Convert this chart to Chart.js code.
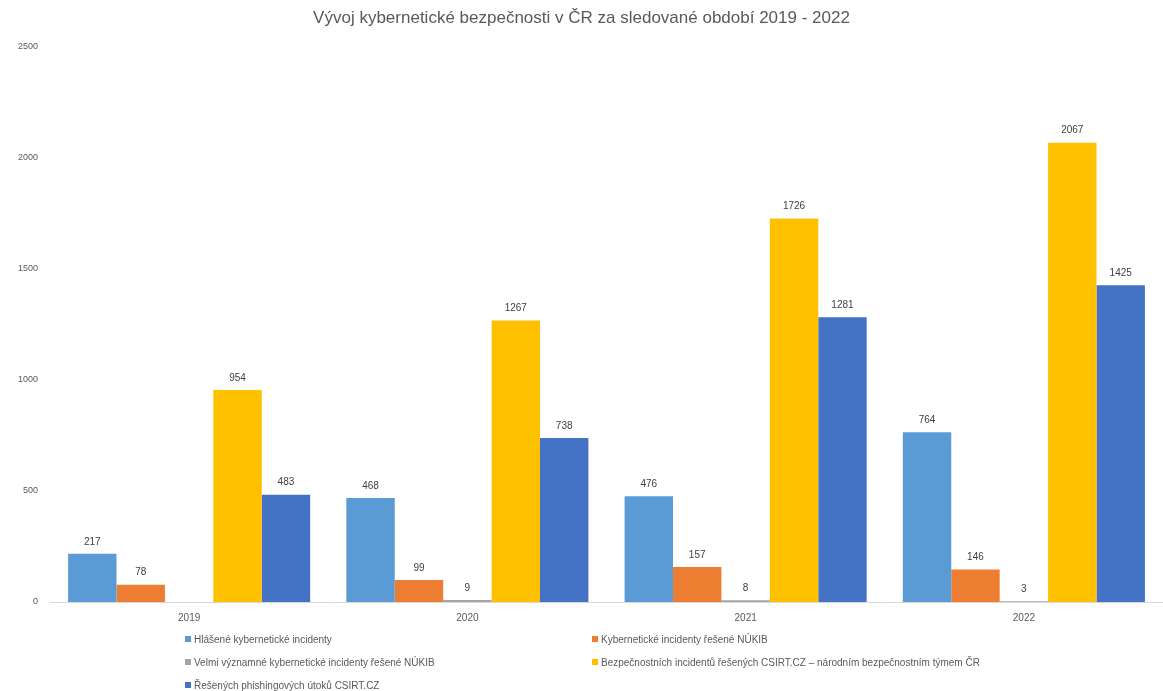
<!DOCTYPE html>
<html>
<head>
<meta charset="utf-8">
<script src="https://cdn.jsdelivr.net/npm/chart.js@4/dist/chart.umd.min.js"></script>
<style>
  html, body { margin: 0; padding: 0; background: #fff; }
  #wrap { position: relative; width: 1163px; height: 691px; }
  #legend { position: absolute; left: 0; top: 0; width: 1163px; height: 691px; pointer-events: none;
    font-family: "Liberation Sans", Arial, sans-serif; font-size: 10px; color: #595959; }
  .li { position: absolute; white-space: nowrap; line-height: 12px; }
  .sw { display: inline-block; width: 6px; height: 6px; margin-right: 3px; vertical-align: 1px; }
</style>
</head>
<body>
<div id="wrap">
  <canvas id="c" width="1163" height="691"></canvas>
  <div id="legend"></div>
</div>
<script>
const categories = ["2019", "2020", "2021", "2022"];
const seriesNames = [
  "Hlášené kybernetické incidenty",
  "Kybernetické incidenty řešené NÚKIB",
  "Velmi významné kybernetické incidenty řešené NÚKIB",
  "Bezpečnostních incidentů řešených CSIRT.CZ – národním bezpečnostním týmem ČR",
  "Řešených phishingových útoků CSIRT.CZ"
];
const hlaseneIncidenty = [217, 468, 476, 764];
const nukibIncidenty = [78, 99, 157, 146];
const vyznamneIncidenty = [null, 9, 8, 3];
const csirtIncidenty = [954, 1267, 1726, 2067];
const phishing = [483, 738, 1281, 1425];
const yTicks = [0, 500, 1000, 1500, 2000, 2500];
const colors = ["#5B9BD5", "#ED7D31", "#A5A5A5", "#FFC000", "#4472C4"];

const allSeries = [hlaseneIncidenty, nukibIncidenty, vyznamneIncidenty, csirtIncidenty, phishing];
const FONT = '"Liberation Sans", Arial, sans-serif';

const valueLabels = {
  id: 'valueLabels',
  afterDatasetsDraw(chart) {
    const ctx = chart.ctx;
    ctx.save();
    ctx.font = '10px ' + FONT;
    ctx.fillStyle = '#404040';
    ctx.textAlign = 'center';
    ctx.textBaseline = 'middle';
    chart.data.datasets.forEach((ds, i) => {
      const meta = chart.getDatasetMeta(i);
      meta.data.forEach((bar, j) => {
        const v = ds.data[j];
        if (v === null || v === undefined) return;
        ctx.fillText(String(v), bar.x, bar.y - 12);
      });
    });
    ctx.restore();
  }
};

const chart = new Chart(document.getElementById('c'), {
  type: 'bar',
  data: {
    labels: categories,
    datasets: allSeries.map((d, i) => ({
      label: seriesNames[i],
      data: d,
      backgroundColor: colors[i],
      borderWidth: 0,
      categoryPercentage: 0.87,
      barPercentage: 1.0
    }))
  },
  options: {
    responsive: false,
    animation: false,
    devicePixelRatio: 1,
    layout: { padding: { left: 0, right: 0, top: 0, bottom: 57 } },
    plugins: {
      legend: { display: false },
      tooltip: { enabled: false },
      title: {
        display: true,
        text: "Vývoj kybernetické bezpečnosti v ČR za sledované období 2019 - 2022",
        color: '#595959',
        font: { family: FONT, size: 17, weight: 'normal' },
        padding: { top: 8, bottom: 18 }
      }
    },
    scales: {
      x: {
        grid: { display: false, drawTicks: false },
        border: { display: true, color: '#D9D9D9', width: 1 },
        ticks: { color: '#595959', font: { family: FONT, size: 10 }, padding: 10 }
      },
      y: {
        min: 0, max: 2500,
        afterBuildTicks(axis) { axis.ticks = yTicks.map(v => ({ value: v })); },
        afterFit(axis) { axis.width = 50; },
        grid: { display: false, drawTicks: false },
        border: { display: false },
        ticks: { color: '#595959', font: { family: FONT, size: 9 }, padding: 12,
                 callback: (v) => String(v) }
      }
    }
  },
  plugins: [valueLabels]
});

// HTML legend in two columns
const legendPos = [
  [185, 634], [592, 634],
  [185, 657], [592, 657],
  [185, 680]
];
const lg = document.getElementById('legend');
seriesNames.forEach((n, i) => {
  const d = document.createElement('div');
  d.className = 'li';
  d.style.left = legendPos[i][0] + 'px';
  d.style.top = legendPos[i][1] + 'px';
  d.innerHTML = '<span class="sw" style="background:' + colors[i] + '"></span>';
  d.appendChild(document.createTextNode(n));
  lg.appendChild(d);
});
</script>
</body>
</html>
